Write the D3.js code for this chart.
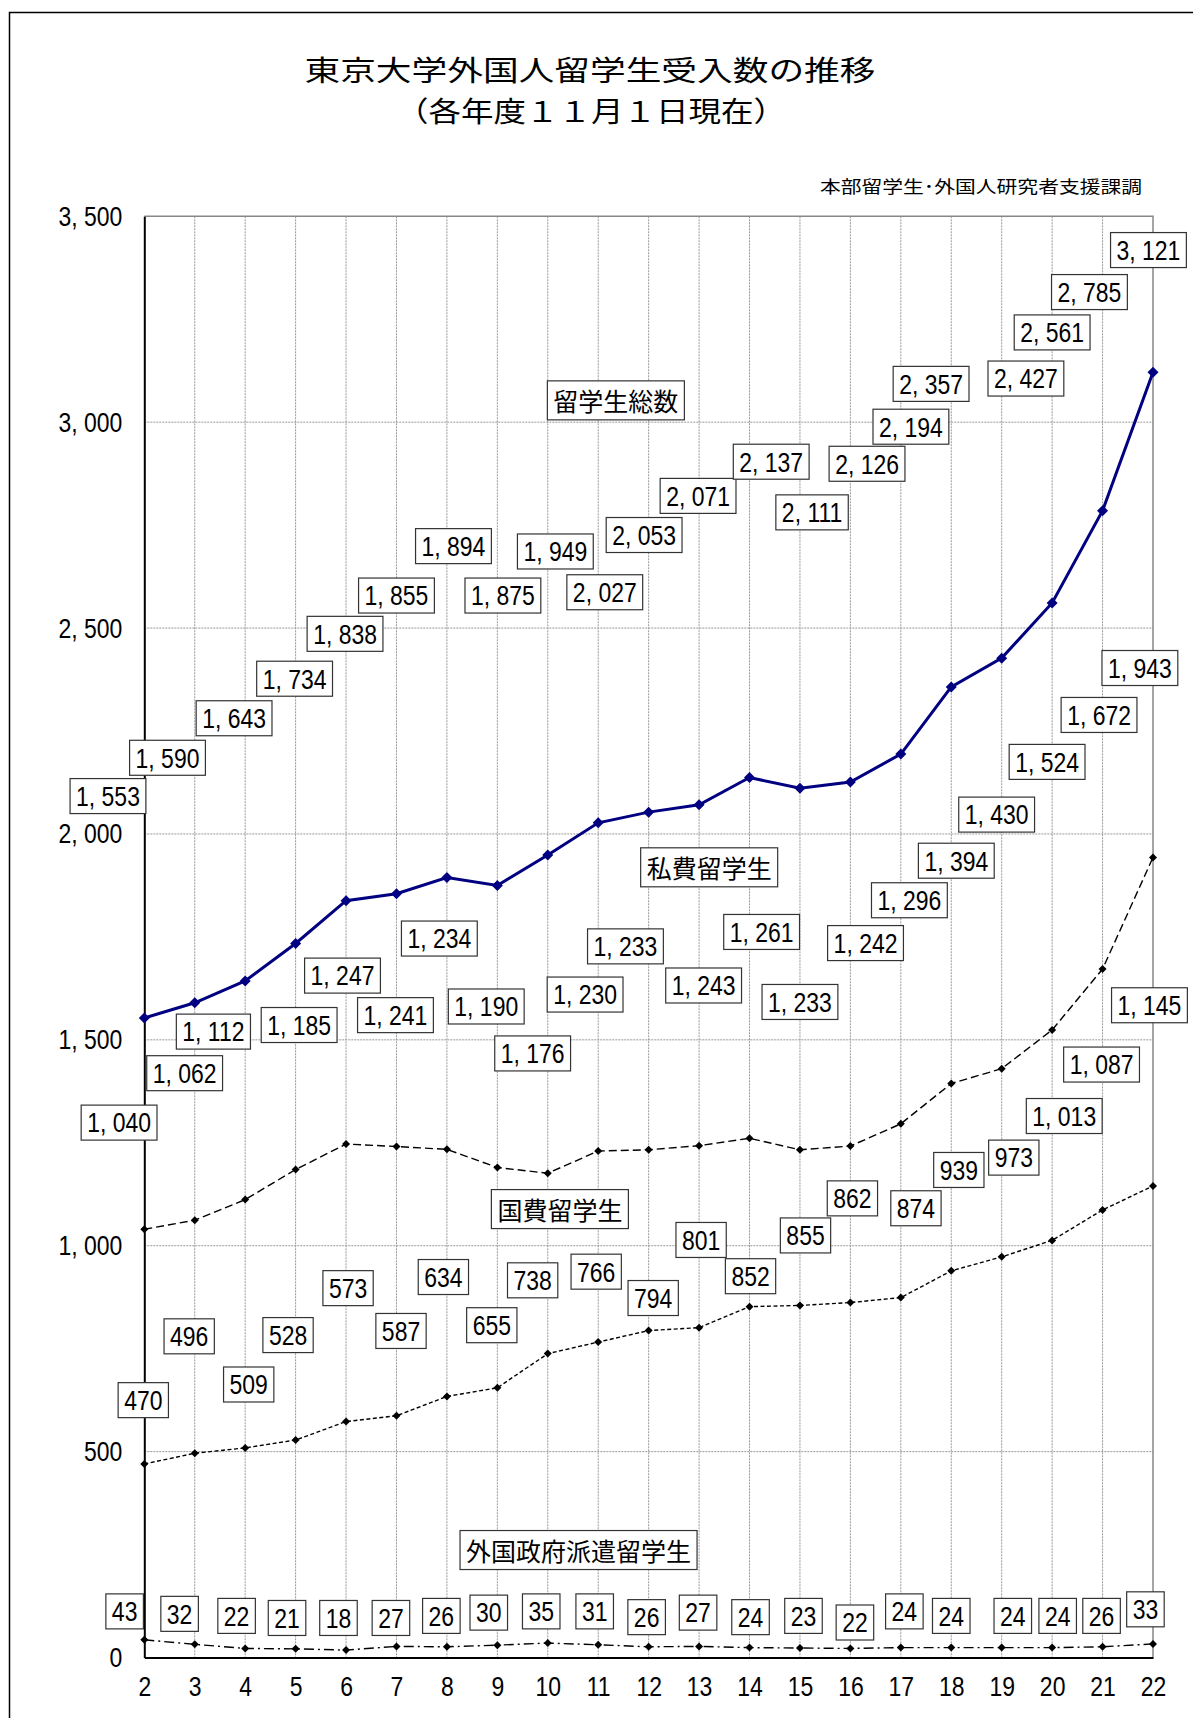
<!DOCTYPE html>
<html>
<head>
<meta charset="utf-8">
<script src="https://cdn.jsdelivr.net/npm/d3@7"></script>
<style>
  body { margin: 0; background: #fff; }
  svg { display: block; }
</style>
</head>
<body>
<div id="chart"></div>
<script>
// 年度 (x軸)
const years = [2, 3, 4, 5, 6, 7, 8, 9, 10, 11, 12, 13, 14, 15, 16, 17, 18, 19, 20, 21, 22];
const yTicks = [0, 500, 1000, 1500, 2000, 2500, 3000, 3500];

// 各系列
const totalStudents = [1553, 1590, 1643, 1734, 1838, 1855, 1894, 1875, 1949, 2027, 2053, 2071, 2137, 2111, 2126, 2194, 2357, 2427, 2561, 2785, 3121];
const privateStudents = [1040, 1062, 1112, 1185, 1247, 1241, 1234, 1190, 1176, 1230, 1233, 1243, 1261, 1233, 1242, 1296, 1394, 1430, 1524, 1672, 1943];
const govStudents = [470, 496, 509, 528, 573, 587, 634, 655, 738, 766, 794, 801, 852, 855, 862, 874, 939, 973, 1013, 1087, 1145];
const foreignGovStudents = [43, 32, 22, 21, 18, 27, 26, 30, 35, 31, 26, 27, 24, 23, 22, 24, 24, 24, 24, 26, 33];

const seriesNames = ["留学生総数", "私費留学生", "国費留学生", "外国政府派遣留学生"];

// ラベルの置き場所 (x: 年度, y: 値) -- Excelで手で動かした位置
const totalLabelAt = [[1.28, 2092], [2.46, 2185], [3.78, 2281], [4.98, 2377], [5.98, 2486], [7.0, 2579], [8.13, 2699], [9.11, 2579], [10.15, 2686], [11.13, 2587], [11.91, 2726], [12.98, 2821], [14.43, 2904], [15.24, 2781], [16.33, 2899], [17.2, 2989], [17.6, 3093], [19.48, 3106], [20.0, 3218], [20.74, 3316], [21.91, 3418]];
const privateLabelAt = [[1.5, 1299], [2.8, 1419], [3.37, 1520], [5.07, 1536], [5.93, 1656], [6.98, 1560], [7.85, 1746], [8.78, 1581], [9.7, 1467], [10.74, 1610], [11.54, 1727], [13.09, 1632], [14.24, 1762], [15.0, 1592], [16.3, 1735], [17.17, 1839], [18.1, 1935], [18.9, 2047], [19.9, 2175], [20.93, 2289], [21.74, 2403]];
const govLabelAt = [[1.98, 625], [2.89, 780], [4.07, 663], [4.85, 783], [6.04, 897], [7.09, 793], [7.93, 924], [8.89, 807], [9.7, 916], [10.96, 937], [12.09, 873], [13.04, 1014], [14.02, 926], [15.11, 1025], [16.04, 1115], [17.3, 1091], [18.15, 1184], [19.24, 1214], [20.24, 1315], [20.98, 1440], [21.93, 1584]];
const foreignLabelAt = [[1.61, 112], [2.7, 106], [3.83, 101], [4.83, 96], [5.85, 96], [6.89, 96], [7.89, 101], [8.83, 109], [9.87, 112], [10.93, 112], [11.96, 98], [12.98, 109], [14.02, 98], [15.07, 101], [16.09, 85], [17.07, 112], [18.0, 101], [19.22, 101], [20.11, 101], [20.98, 101], [21.85, 117]];
const nameLabelAt = [[11.35, 3053], [13.2, 1919], [10.24, 1089], [10.61, 261]];

const width = 1193;
const height = 1718;
const plot = { left: 144.3, right: 1153, top: 216.3, bottom: 1657.5 };

const numFont = "'Liberation Sans', Arial, sans-serif";
const jpFont = "'Noto Sans CJK JP', 'Noto Sans CJK SC', sans-serif";
const narrow = 0.82; // 数字は細めのフォントに寄せる

const fmt = d => d3.format(",")(d).replace(",", ", ");

const x = d3.scaleLinear().domain([2, 22]).range([plot.left, plot.right]);
const y = d3.scaleLinear().domain([0, 3500]).range([plot.bottom, plot.top]);

const svg = d3.select("#chart")
              .append("svg")
              .attr("width", width)
              .attr("height", height);

// 外枠
svg.append("path")
   .attr("d", `M9.5,${height} L9.5,12.5 L${width},12.5`)
   .attr("fill", "none")
   .attr("stroke", "#000")
   .attr("stroke-width", 1.5);

// タイトル
svg.append("text")
   .attr("x", 590).attr("y", 81)
   .attr("text-anchor", "middle")
   .attr("font-family", jpFont)
   .attr("font-size", 28)
   .attr("textLength", 571)
   .attr("lengthAdjust", "spacingAndGlyphs")
   .text("東京大学外国人留学生受入数の推移");

svg.append("text")
   .attr("x", 591).attr("y", 122)
   .attr("text-anchor", "middle")
   .attr("font-family", jpFont)
   .attr("font-size", 28)
   .attr("textLength", 390)
   .attr("lengthAdjust", "spacingAndGlyphs")
   .text("（各年度１１月１日現在）");

svg.append("text")
   .attr("x", 820).attr("y", 193)
   .attr("font-family", jpFont)
   .attr("font-size", 17)
   .attr("textLength", 322)
   .attr("lengthAdjust", "spacingAndGlyphs")
   .text("本部留学生･外国人研究者支援課調");

// グリッド
const grid = svg.append("g");
grid.selectAll(".vgrid")
    .data(years.slice(1, -1))
    .enter()
    .append("line")
    .attr("x1", d => x(d)).attr("x2", d => x(d))
    .attr("y1", plot.top).attr("y2", plot.bottom)
    .attr("stroke", "#999")
    .attr("stroke-dasharray", "2,1");

grid.selectAll(".hgrid")
    .data(yTicks.slice(1, -1))
    .enter()
    .append("line")
    .attr("x1", plot.left).attr("x2", plot.right)
    .attr("y1", d => y(d)).attr("y2", d => y(d))
    .attr("stroke", "#999")
    .attr("stroke-dasharray", "2,1");

// 上と右の枠
svg.append("path")
   .attr("d", `M${plot.left},${y(3500)} L${x(22)},${y(3500)} L${x(22)},${plot.bottom}`)
   .attr("fill", "none")
   .attr("stroke", "#888")
   .attr("stroke-width", 1.5);

// 軸
const yAxis = d3.axisLeft(y)
                .tickValues(yTicks)
                .tickFormat(fmt)
                .tickSize(0);

const xAxis = d3.axisBottom(x)
                .tickValues(years)
                .tickFormat(d => d)
                .tickSize(0);

const gy = svg.append("g")
              .attr("transform", `translate(${plot.left},0)`)
              .call(yAxis);
const gx = svg.append("g")
              .attr("transform", `translate(0,${plot.bottom})`)
              .call(xAxis);

[gx, gy].forEach(g => {
  g.select(".domain").attr("stroke", "#000").attr("stroke-width", 2);
  g.selectAll("text")
   .attr("font-family", numFont)
   .attr("font-size", 28)
   .attr("fill", "#000");
});
gy.selectAll("text")
  .attr("x", 0)
  .attr("transform", `translate(-22,0) scale(${narrow},1)`);
gx.selectAll("text")
  .attr("y", 0)
  .attr("dy", "0.71em")
  .attr("transform", `translate(0,19) scale(${narrow},1)`);

// 折れ線
const series = [
  { values: totalStudents, color: "#000080", width: 3, dash: null, marker: 11 },
  { values: privateStudents, color: "#000", width: 1.4, dash: "8,4", marker: 8 },
  { values: govStudents, color: "#000", width: 1.4, dash: "4,2.5", marker: 8 },
  { values: foreignGovStudents, color: "#000", width: 1.4, dash: "10,4,2,4", marker: 8 }
];

const line = d3.line()
               .x((d, i) => x(years[i]))
               .y(d => y(d));

series.forEach(s => {
  svg.append("path")
     .datum(s.values)
     .attr("d", line)
     .attr("fill", "none")
     .attr("stroke", s.color)
     .attr("stroke-width", s.width)
     .attr("stroke-dasharray", s.dash);

  const r = s.marker / 2;
  svg.selectAll(null)
     .data(s.values)
     .enter()
     .append("path")
     .attr("d", `M0,${-r} L${r},0 L0,${r} L${-r},0 Z`)
     .attr("transform", (d, i) => `translate(${x(years[i])},${y(d)})`)
     .attr("fill", s.color);
});

// 枠付きラベル
function boxLabel(text, cx, cy, font, size, sx, padX, boxH) {
  const g = svg.append("g");
  const rect = g.append("rect");
  const t = g.append("text")
             .attr("x", 0).attr("y", 0)
             .attr("transform", `translate(${cx},${cy}) scale(${sx},1)`)
             .attr("text-anchor", "middle")
             .attr("dominant-baseline", "central")
             .attr("font-family", font)
             .attr("font-size", size)
             .text(text);
  const w = t.node().getComputedTextLength() * sx;
  rect.attr("x", cx - w / 2 - padX)
      .attr("y", cy - boxH / 2)
      .attr("width", w + padX * 2)
      .attr("height", boxH)
      .attr("fill", "#fff")
      .attr("stroke", "#333")
      .attr("stroke-width", 1.2);
}

[[totalStudents, totalLabelAt], [privateStudents, privateLabelAt], [govStudents, govLabelAt], [foreignGovStudents, foreignLabelAt]]
  .forEach(([vals, pos]) => {
    vals.forEach((v, i) => {
      boxLabel(fmt(v), x(pos[i][0]), y(pos[i][1]), numFont, 28, narrow, 6, 35);
    });
  });

seriesNames.forEach((name, i) => {
  boxLabel(name, x(nameLabelAt[i][0]), y(nameLabelAt[i][1]), jpFont, 25, 1, 6, 39);
});
</script>
</body>
</html>
